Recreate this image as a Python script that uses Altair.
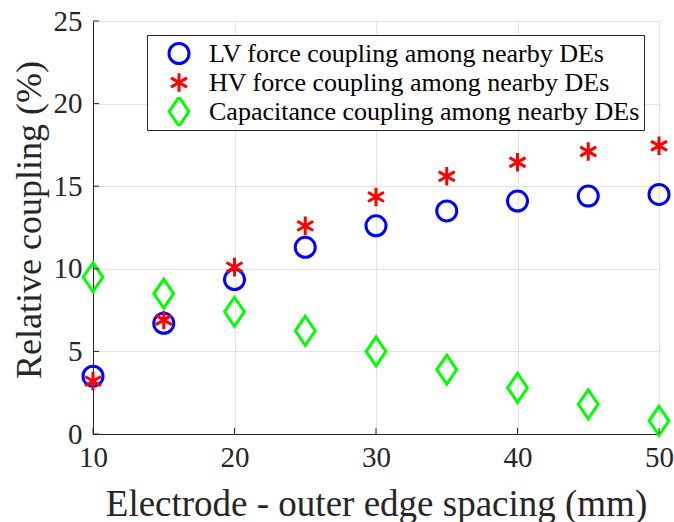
import altair as alt
import pandas as pd

# ---- data ----
spacing = [10, 15, 20, 25, 30, 35, 40, 45, 50]
lv_force = [3.5, 6.7, 9.35, 11.3, 12.6, 13.5, 14.1, 14.4, 14.5]
hv_force = [3.2, 6.9, 10.1, 12.6, 14.35, 15.6, 16.45, 17.1, 17.45]
capacitance = [9.5, 8.5, 7.4, 6.25, 5.0, 3.9, 2.8, 1.8, 0.8]
series_names = [
    "LV force coupling among nearby DEs",
    "HV force coupling among nearby DEs",
    "Capacitance coupling among nearby DEs",
]
x_ticks = [10, 20, 30, 40, 50]
y_ticks = [0, 5, 10, 15, 20, 25]

# ---- styling ----
W, H = 566, 413
FONT = "Liberation Serif"
TXT = "#262626"
colors = ["#0000FF", "#FF0000", "#00FF00"]
circle_path = "M0.69,0A0.69,0.69,0,1,1,-0.69,0A0.69,0.69,0,1,1,0.69,0Z"
star_path = "M0,-0.64L0,0.64M-0.55,-0.32L0.55,0.32M-0.55,0.32L0.55,-0.32"
diamond_path = "M0,-1L0.68,0L0,1L-0.68,0Z"
shapes = [circle_path, star_path, diamond_path]

rows = []
for name, vals in zip(series_names, [lv_force, hv_force, capacitance]):
    for s, v in zip(spacing, vals):
        rows.append({"spacing": s, "coupling": v, "series": name})
df = pd.DataFrame(rows)

x_scale = alt.Scale(domain=[10, 50], nice=False)
y_scale = alt.Scale(domain=[0, 25], nice=False)

x_axis = alt.Axis(
    title="Electrode - outer edge spacing (mm)",
    values=x_ticks,
    format="d",
    labelFlush=False,
    labelPadding=9,
    titleY=81,
    titleBaseline="alphabetic",
    titleFontSize=37,
)
y_axis = alt.Axis(
    title="Relative coupling (%)",
    values=y_ticks,
    format="d",
    labelPadding=11,
    titleX=-53,
    titleY=H / 2 - 8,
    titleBaseline="alphabetic",
    titleFontSize=36,
)

points = alt.Chart(df).mark_point(
    filled=False, strokeWidth=3, size=841, opacity=1
).encode(
    x=alt.X("spacing:Q", scale=x_scale, axis=x_axis),
    y=alt.Y("coupling:Q", scale=y_scale, axis=y_axis),
    color=alt.Color(
        "series:N",
        scale=alt.Scale(domain=series_names, range=colors),
        sort=series_names,
        legend=alt.Legend(title=None),
    ),
    shape=alt.Shape(
        "series:N",
        scale=alt.Scale(domain=series_names, range=shapes),
        sort=series_names,
        legend=alt.Legend(title=None),
    ),
)

xticks = alt.Chart(pd.DataFrame({"spacing": x_ticks})).mark_rule(
    color=TXT, strokeWidth=1
).encode(
    x=alt.X("spacing:Q", scale=x_scale, axis=x_axis),
    y=alt.value(H),
    y2=alt.value(H - 6),
)

yticks = alt.Chart(pd.DataFrame({"coupling": y_ticks})).mark_rule(
    color=TXT, strokeWidth=1
).encode(
    y=alt.Y("coupling:Q", scale=y_scale, axis=y_axis),
    x=alt.value(0),
    x2=alt.value(6),
)

chart = alt.layer(points, xticks, yticks).properties(
    width=W,
    height=H,
    autosize=alt.AutoSizeParams(type="none"),
    padding={"left": 93, "top": 21, "right": 15, "bottom": 88},
    background="white",
).configure_view(
    stroke=None
).configure_axis(
    labelFont=FONT,
    labelFontSize=29,
    labelColor=TXT,
    titleFont=FONT,
    titleFontWeight="normal",
    titleColor=TXT,
    ticks=False,
    domainColor=TXT,
    domainWidth=1,
    gridColor="#e3e3e3",
    gridWidth=1,
    labelOverlap=False,
).configure_legend(
    orient="none",
    legendX=54,
    legendY=14,
    padding=4,
    rowPadding=0,
    clipHeight=29,
    symbolSize=841,
    symbolStrokeWidth=3,
    symbolOffset=12,
    labelOffset=14,
    labelFont=FONT,
    labelFontSize=26,
    labelColor="black",
    labelLimit=0,
    strokeColor=TXT,
    fillColor="white",
)

chart.save("out.html", embed_options={"renderer": "svg", "actions": False})
